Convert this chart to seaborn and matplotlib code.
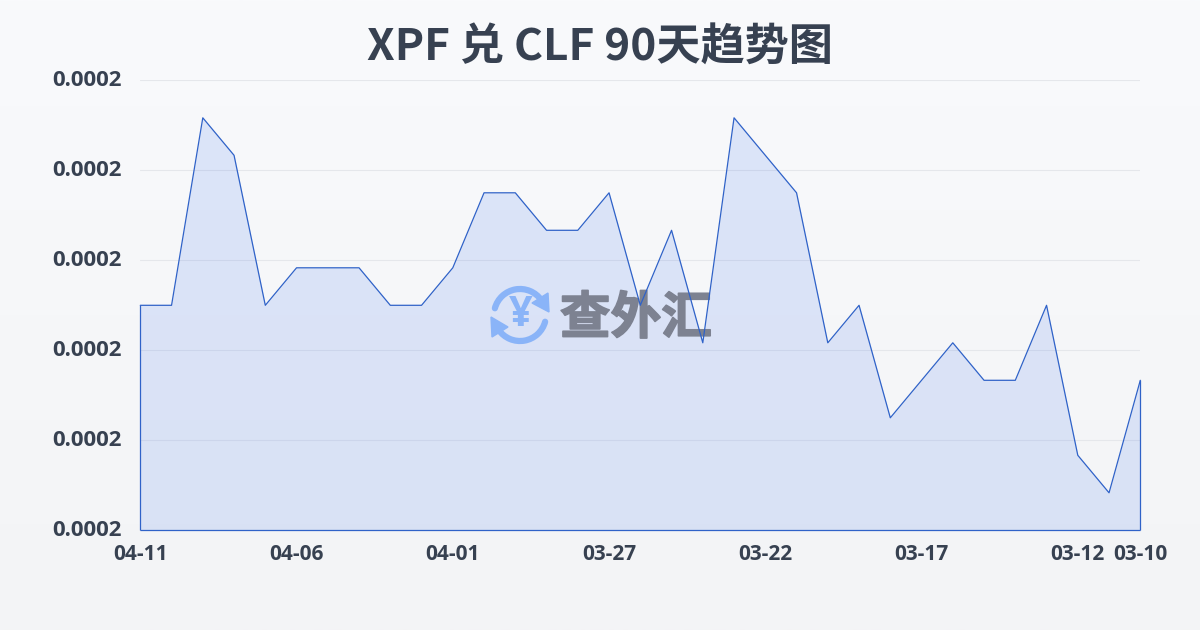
import numpy as np
import pandas as pd
import matplotlib
matplotlib.use('Agg')
import matplotlib.pyplot as plt
import matplotlib.patheffects as pe
import matplotlib.transforms as mtrans
import seaborn as sns
from matplotlib.patches import Arc, Polygon

dates = ['04-11', '04-10', '04-09', '04-08', '04-07', '04-06', '04-05', '04-04', '04-03', '04-02', '04-01',
         '03-31', '03-30', '03-29', '03-28', '03-27', '03-26', '03-25', '03-24', '03-23', '03-22',
         '03-21', '03-20', '03-19', '03-18', '03-17', '03-16', '03-15', '03-14', '03-13', '03-12', '03-11', '03-10']
rates = [0.000198, 0.000198, 0.000203, 0.000202, 0.000198, 0.000199, 0.000199, 0.000199, 0.000198, 0.000198, 0.000199,
         0.000201, 0.000201, 0.000200, 0.000200, 0.000201, 0.000198, 0.000200, 0.000197, 0.000203, 0.000202,
         0.000201, 0.000197, 0.000198, 0.000195, 0.000196, 0.000197, 0.000196, 0.000196, 0.000198, 0.000194, 0.000193, 0.000196]
y_ticks = [0.000192, 0.0001944, 0.0001968, 0.0001992, 0.0002016, 0.000204]
x_labels = ['04-11', '04-06', '04-01', '03-27', '03-22', '03-17', '03-12', '03-10']

title = 'XPF 兑 CLF 90天趋势图'
line_color = '#2f62c8'
text_color = '#374151'

sns.set_theme(style='white')
plt.rcParams['font.family'] = ['Open Sans', 'Noto Sans CJK SC', 'DejaVu Sans']

df = pd.DataFrame({'date': dates, 'rate': rates})

fig = plt.figure(figsize=(12, 6.3), dpi=100)

# page background, light vertical gradient
bg = fig.add_axes([0, 0, 1, 1], zorder=0)
bg.imshow(np.linspace(0, 1, 256).reshape(-1, 1), aspect='auto', extent=[0, 1, 0, 1],
          cmap=matplotlib.colors.LinearSegmentedColormap.from_list('page', ['#f9fafc', '#f3f4f6']))
bg.axis('off')

pos = [140.3 / 1200, 1 - 530.3 / 630, 1000 / 1200, 450 / 630]

# grid and area
ax = fig.add_axes(pos, zorder=1)
ax.patch.set_alpha(0)
ax.fill_between(range(len(dates)), rates, y_ticks[0], facecolor='#2563eb', alpha=0.13, zorder=2, linewidth=0)
ax.set_xlim(0, len(dates) - 1)
ax.set_ylim(y_ticks[0], y_ticks[-1])
ax.set_yticks(y_ticks)
ax.set_yticklabels(['%.4f' % v for v in y_ticks], fontsize=16, fontweight='bold', color=text_color)
ax.set_xticks([dates.index(d) for d in x_labels])
ax.set_xticklabels(x_labels, fontsize=15, fontweight='bold', color=text_color)
ax.tick_params(axis='x', length=7, width=0.8, color='#e5e7eb', pad=3)
ax.tick_params(axis='y', length=0, pad=13)
for lab in ax.get_yticklabels():
    lab.set_transform(lab.get_transform() + mtrans.ScaledTranslation(0, 1.5 / 72, fig.dpi_scale_trans))
ax.grid(axis='y', color='#e5e7eb', linewidth=0.8)
ax.set_axisbelow(True)
sns.despine(ax=ax, left=True, bottom=True)

fig.text(0.5, 1 - 46.5 / 630, title, ha='center', va='center', fontsize=31.8, fontweight='bold',
         color=text_color, family=['Noto Sans CJK SC', 'DejaVu Sans'])

# watermark logo in pixel coordinates
wm = fig.add_axes([0, 0, 1, 1], zorder=2)
wm.set_xlim(0, 1200)
wm.set_ylim(630, 0)
wm.axis('off')
blue = '#8ab4f8'
wm.add_patch(Arc((520, 315), 52, 52, theta1=195, theta2=325, color=blue, linewidth=4.5, capstyle='round'))
wm.add_patch(Arc((520, 315), 52, 52, theta1=15, theta2=145, color=blue, linewidth=4.5, capstyle='round'))
wm.add_patch(Polygon([[549, 312], [548, 293], [532, 303]], closed=True, color=blue))
wm.add_patch(Polygon([[491, 317], [492, 337], [508, 327]], closed=True, color=blue))
wm.text(520.5, 315, '¥', ha='center', va='center', fontsize=30, fontweight='bold', color=blue,
        family=['Open Sans', 'DejaVu Sans'])
wm.text(636, 319, '查外汇', ha='center', va='center', fontsize=36.5, fontweight='bold', color='#7d8291',
        family=['Noto Sans CJK SC', 'DejaVu Sans'],
        path_effects=[pe.withStroke(linewidth=1.2, foreground='#7d8291')])

# outline goes above the watermark
top = fig.add_axes(pos, zorder=3)
top.patch.set_alpha(0)
sns.lineplot(data=df, x='date', y='rate', sort=False, color=line_color, linewidth=0.9, ax=top, clip_on=False)
top.vlines([0, len(dates) - 1], y_ticks[0], [rates[0], rates[-1]], color=line_color, linewidth=0.9, clip_on=False)
top.hlines(y_ticks[0], 0, len(dates) - 1, color=line_color, linewidth=0.9, clip_on=False)
top.set_xlim(0, len(dates) - 1)
top.set_ylim(y_ticks[0], y_ticks[-1])
top.axis('off')

plt.savefig('out.png', dpi=100)
